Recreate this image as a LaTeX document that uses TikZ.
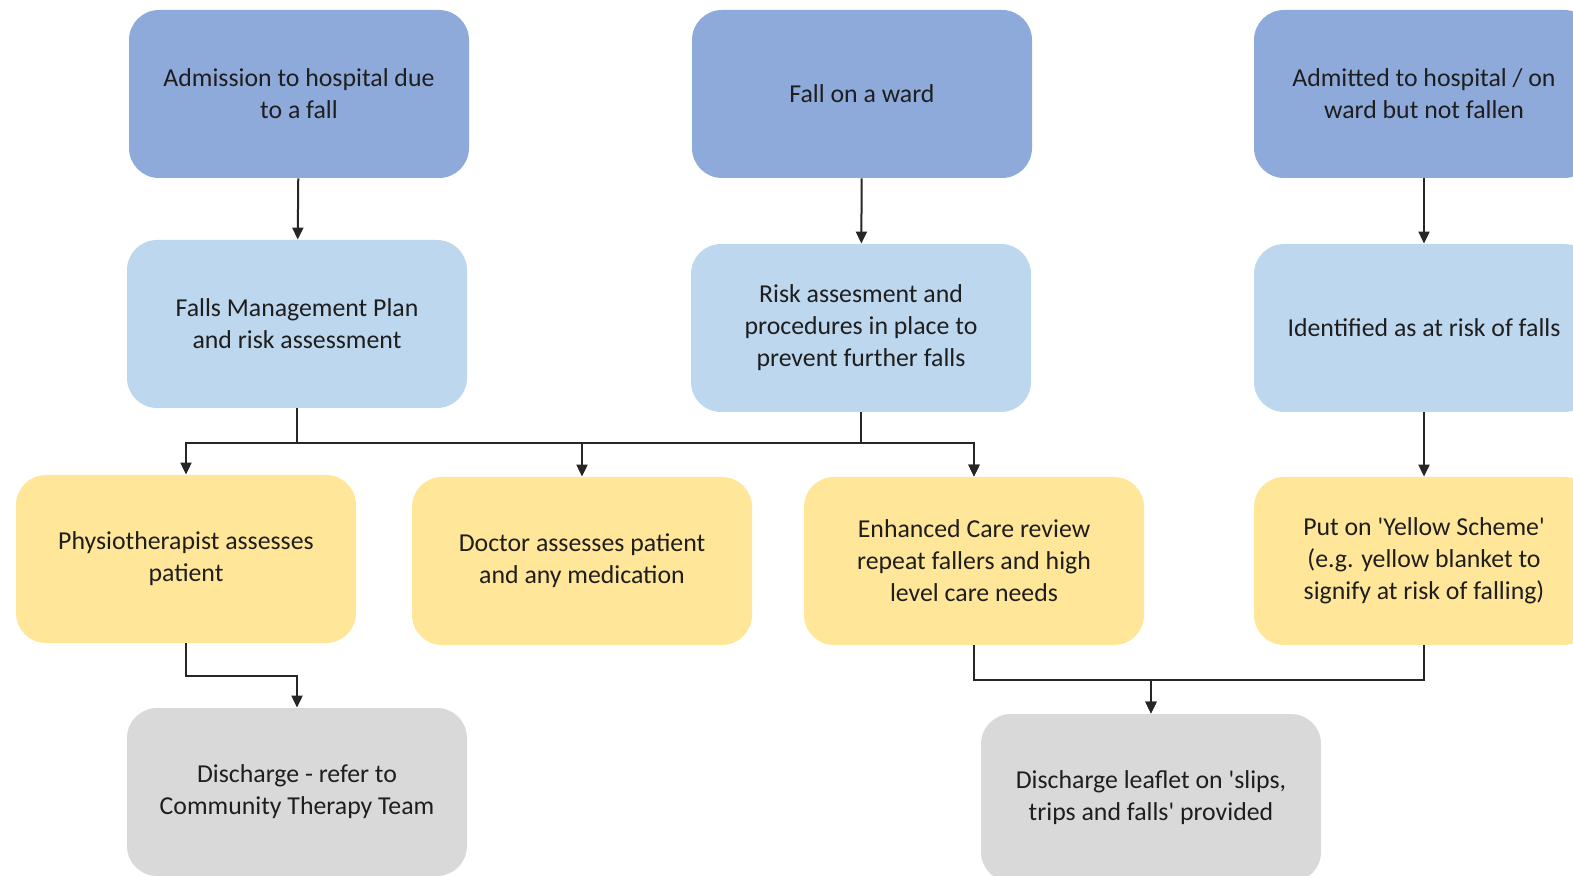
\documentclass[tikz,border=0pt]{standalone}
\usepackage{fontspec}
\setmainfont{Carlito}
\usetikzlibrary{arrows.meta}
\definecolor{topblue}{HTML}{8EAADB}
\definecolor{midblue}{HTML}{BDD7EE}
\definecolor{actyellow}{HTML}{FFE699}
\definecolor{endgrey}{HTML}{D9D9D9}
\definecolor{txt}{HTML}{1E1E1E}
\newcommand{\sq}{\textquotesingle}
\tikzset{
  box/.style={rounded corners=15pt, minimum width=170pt, minimum height=84pt,
    inner sep=0pt, align=center, text=txt,
    font=\fontsize{12.9pt}{16pt}\selectfont},
  topbox/.style={box, fill=topblue},
  midbox/.style={box, fill=midblue},
  actbox/.style={box, fill=actyellow},
  endbox/.style={box, fill=endgrey},
  link/.style={draw=black!85, line width=1pt},
  arr/.style={link, -{Triangle[width=5.5pt,length=6pt]}}
}
\begin{document}
\begin{tikzpicture}[x=0.5pt, y=-0.5pt]
  \useasboundingbox (0,0) rectangle (1573,876);
  % entry points
  \node[topbox] (A) at (299,94) {Admission to hospital due\\to a fall};
  \node[topbox] (B) at (862,94) {Fall on a ward};
  \node[topbox] (C) at (1424,94) {Admitted to hospital / on\\ward but not fallen};
  % assessment
  \node[midbox] (D) at (297,324) {Falls Management Plan\\and risk assessment};
  \node[midbox] (E) at (861,328) {Risk assesment and\\procedures in place to\\prevent further falls};
  \node[midbox] (F) at (1424,328) {Identified as at risk of falls};
  % actions
  \node[actbox] (G) at (186,559) {Physiotherapist assesses\\patient};
  \node[actbox] (H) at (582,561) {Doctor assesses patient\\and any medication};
  \node[actbox] (I) at (974,561) {Enhanced Care review\\repeat fallers and high\\level care needs};
  \node[actbox] (J) at (1424,561) {Put on \sq Yellow Scheme\sq\\(e.g. yellow blanket to\\signify at risk of falling)};
  % discharge
  \node[endbox] (K) at (297,792) {Discharge - refer to\\Community Therapy Team};
  \node[endbox] (L) at (1151,798) {Discharge leaflet on \sq slips,\\trips and falls\sq{} provided};

  % connectors
  \draw[arr] (A) -- (D);
  \draw[arr] (B) -- (E);
  \draw[arr] (C) -- (F);
  \draw[arr] (F) -- (J);
  \draw[arr] (D.south) -- (D.south |- 0,443) -| (G.north);
  \draw[arr] (D.south) -- (D.south |- 0,443) -| (H.north);
  \draw[arr] (D.south) -- (D.south |- 0,443) -| (I.north);
  \draw[arr] (E.south) -- (E.south |- 0,443) -| (I.north);
  \draw[arr] (G.south) -- (G.south |- 0,676) -| (K.north);
  \draw[arr] (I.south) -- (I.south |- 0,680) -| (L.north);
  \draw[arr] (J.south) -- (J.south |- 0,680) -| (L.north);
\end{tikzpicture}
\end{document}
